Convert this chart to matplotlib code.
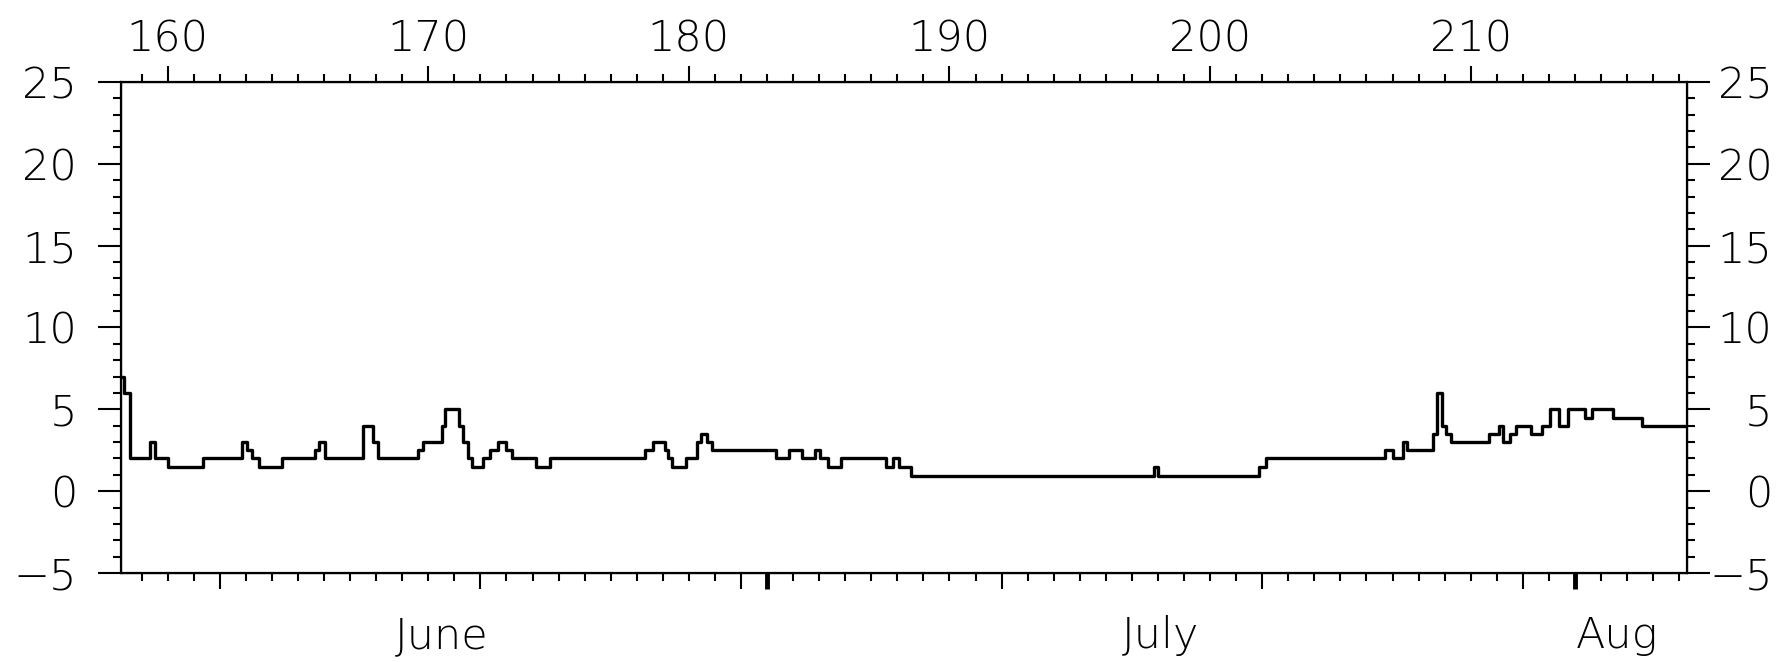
import numpy as np
import matplotlib.pyplot as plt

plt.rcParams['font.family'] = ['DejaVu Sans']
plt.rcParams['font.weight'] = 'light'

# day of year where each level starts, and the level (step curve)
t = [158.21, 158.34, 158.56, 159.32, 159.51, 160.03, 161.34, 162.84, 163.03, 163.22,
     163.52, 164.37, 165.65, 165.82, 166.04, 167.51, 167.89, 168.08, 169.62, 169.81,
     170.51, 170.66, 171.19, 171.34, 171.53, 171.66, 172.11, 172.36, 172.68, 173.00,
     173.20, 174.15, 174.69, 178.31, 178.63, 179.08, 179.20, 179.37, 179.88, 180.32,
     180.48, 180.71, 180.89, 183.33, 183.85, 184.36, 184.83, 185.02, 185.34, 185.85,
     187.55, 187.84, 188.07, 188.54, 197.85, 198.00, 201.87, 202.13, 206.71, 207.02,
     207.39, 207.56, 208.55, 208.70, 208.91, 209.05, 209.26, 210.69, 211.08, 211.23,
     211.51, 211.75, 212.32, 212.75, 213.03, 213.39, 213.74, 214.38, 214.66, 215.45,
     216.58]
v = [7, 6, 2, 3, 2, 1.5, 2, 3, 2.5, 2,
     1.5, 2, 2.5, 3, 2, 4, 3, 2, 2.5, 3,
     4, 5, 4, 3, 2, 1.5, 2, 2.5, 3, 2.5,
     2, 1.5, 2, 2.5, 3, 2.5, 2, 1.5, 2, 3,
     3.5, 3, 2.5, 2, 2.5, 2, 2.5, 2, 1.5, 2,
     1.5, 2, 1.5, 0.9, 1.5, 0.9, 1.5, 2, 2.5, 2,
     3, 2.5, 3.5, 6, 4, 3.5, 3, 3.5, 4, 3,
     3.5, 4, 3.5, 4, 5, 4, 5, 4.5, 5, 4.5,
     4]
t_end = 218.3

top_ticks = [160, 170, 180, 190, 200, 210]
bottom_ticks = [162, 172, 182, 183, 192, 202, 212, 214]
month_starts = [183, 214]
months = ['June', 'July', 'Aug']
month_pos = [170.5, 198.1, 215.6]
yticks = [-5, 0, 5, 10, 15, 20, 25]

fs = 31
fig = plt.figure(figsize=(17.81, 6.62), dpi=100)
ax = fig.add_axes([121/1781, 1-573/662, (1687-121)/1781, (573-82)/662])

ax.step(t + [t_end], v + [v[-1]], where='post', color='k', lw=2.4)
ax.set_xlim(158.21, t_end)
ax.set_ylim(-5, 25)
for s in ax.spines.values():
    s.set_linewidth(1.6)

# bottom: day ticks, thick ones at month starts, no numbers
ax.set_xticks(bottom_ticks)
ax.set_xticks(np.arange(159, 219), minor=True)
ax.tick_params(axis='x', which='major', direction='out', length=11.5, width=1.5, labelbottom=False)
ax.tick_params(axis='x', which='minor', direction='out', length=5.8, width=1.5)
for tk, pos in zip(ax.xaxis.get_major_ticks(), bottom_ticks):
    if pos in month_starts:
        tk.tick1line.set_markeredgewidth(3.5)
for name, pos in zip(months, month_pos):
    ax.text(pos, -0.153, name, transform=ax.get_xaxis_transform(),
            ha='center', va='baseline', fontsize=fs)

# left y axis
ax.set_yticks(yticks)
ax.set_yticks(np.arange(-5, 26), minor=True)
ax.tick_params(axis='y', which='major', direction='out', length=16.5, width=1.5, pad=15, labelsize=fs)
ax.tick_params(axis='y', which='minor', direction='out', length=5.8, width=1.5)

# top: day of year
axt = ax.twiny()
axt.set_xlim(ax.get_xlim())
axt.set_xticks(top_ticks)
axt.set_xticks(np.arange(159, 219), minor=True)
axt.tick_params(axis='x', which='major', direction='out', length=11.5, width=1.5, pad=5, labelsize=fs)
axt.tick_params(axis='x', which='minor', direction='out', length=5.8, width=1.5)

# right y axis, labels right-aligned at the edge
axr = ax.twinx()
axr.set_ylim(ax.get_ylim())
axr.set_yticks(yticks)
axr.set_yticks(np.arange(-5, 26), minor=True)
axr.tick_params(axis='y', which='major', direction='out', length=16.5, width=1.5, pad=45, labelsize=fs)
axr.tick_params(axis='y', which='minor', direction='out', length=5.8, width=1.5)
for tk in axr.yaxis.get_major_ticks():
    tk.label2.set_horizontalalignment('right')

fig.savefig('out.png', dpi=100)
